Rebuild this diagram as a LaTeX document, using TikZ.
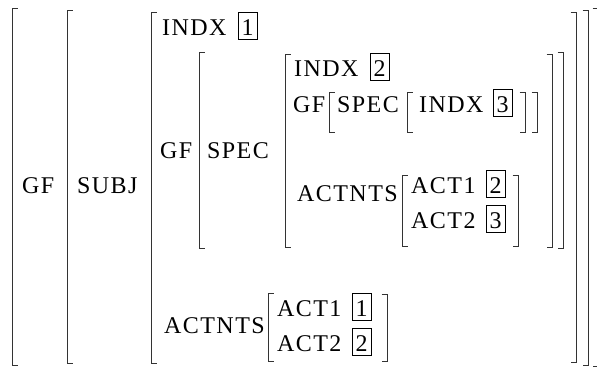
\documentclass[tikz,border=0pt]{standalone}
\usepackage{fontspec}
\setmainfont{Liberation Serif}[LetterSpace=6]
\newfontfamily\tagfont{Liberation Serif}
\tikzset{
  br/.style={line width=0.9pt, draw=black!80},
  lbl/.style={inner sep=0pt, anchor=base west, font=\fontsize{24pt}{28pt}\selectfont},
  tag/.style={draw=black, line width=0.8pt, anchor=base west, inner xsep=3.5pt, inner ysep=4.5pt,
              text height=18.5pt, text depth=0pt, font=\tagfont\fontsize{24pt}{28pt}\selectfont}
}
\newcommand\lbrk[3]{\draw[br] (#1+5.5,#2) -- (#1,#2) -- (#1,#3) -- (#1+5.5,#3);}
\newcommand\rbrk[3]{\draw[br] (#1-5.5,#2) -- (#1,#2) -- (#1,#3) -- (#1-5.5,#3);}
\begin{document}
\begin{tikzpicture}[x=1pt,y=-1pt]
\useasboundingbox (0,0) rectangle (597,367);
% outer brackets
\lbrk{12}{8}{365}
\rbrk{598}{8}{366}
\lbrk{67}{10}{363}
\rbrk{588}{10}{365}
\lbrk{151}{12}{363}
\rbrk{576}{12}{362}
% GF value bracket
\lbrk{199}{52}{248}
\rbrk{563}{52}{248}
% SPEC value bracket
\lbrk{285}{54}{247}
\rbrk{552}{54}{247}
% GF[SPEC[INDX 3]]
\lbrk{329}{92}{132}
\rbrk{537}{92}{132}
\lbrk{407}{92}{132}
\rbrk{525}{92}{132}
% inner ACTNTS
\lbrk{402}{175}{246}
\rbrk{518}{175}{246}
% bottom ACTNTS
\lbrk{268}{293}{361}
\rbrk{387}{294}{361}

% labels
\node[lbl] (gfA) at (22,193) {GF};
\node[lbl] (subj) at (77,193) {SUBJ};
\node[lbl] (indxA) at (162,35) {INDX};
\node[tag] (tA) at ([xshift=11pt]indxA.base east) {1};
\node[lbl] (gfB) at (160,158) {GF};
\node[lbl] (specA) at (207,158) {SPEC};
\node[lbl] (indxB) at (294,76) {INDX};
\node[tag] (tB) at ([xshift=11pt]indxB.base east) {2};
\node[lbl] (gfC) at (293,112) {GF};
\node[lbl] (specB) at (337,112) {SPEC};
\node[lbl] (indxC) at (419,112) {INDX};
\node[tag] (tC) at ([xshift=9pt]indxC.base east) {3};
\node[lbl] (actA) at (297,201) {ACTNTS};
\node[lbl] (act1A) at (411,193) {ACT1};
\node[tag] (tD) at ([xshift=10pt]act1A.base east) {2};
\node[lbl] (act2A) at (411,228) {ACT2};
\node[tag] (tE) at ([xshift=10pt]act2A.base east) {3};
\node[lbl] (actB) at (164,333) {ACTNTS};
\node[lbl] (act1B) at (277,316) {ACT1};
\node[tag] (tF) at ([xshift=10pt]act1B.base east) {1};
\node[lbl] (act2B) at (277,351) {ACT2};
\node[tag] (tG) at ([xshift=10pt]act2B.base east) {2};
\end{tikzpicture}
\end{document}
